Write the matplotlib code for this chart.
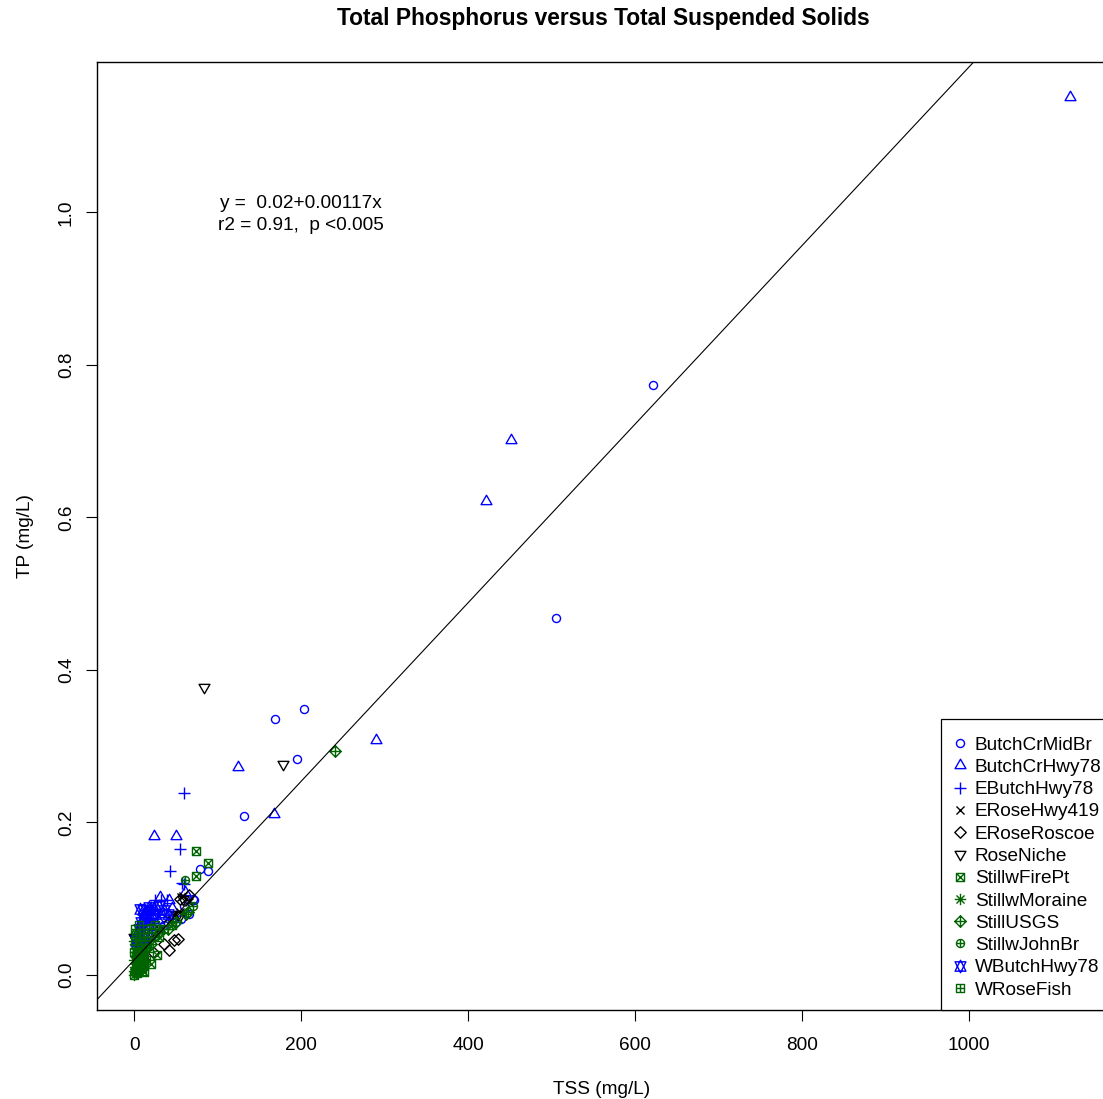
import numpy as np
import matplotlib
matplotlib.use("Agg")
import matplotlib.pyplot as plt
from matplotlib.path import Path
from matplotlib.lines import Line2D

plt.rcParams["font.family"] = ["Liberation Sans", "DejaVu Sans"]

# TSS (mg/L) and TP (mg/L) by monitoring site
butch_mid_tss = [622, 505, 168, 203, 195, 131, 79, 88, 70, 56, 65, 50, 60, 45, 35, 30, 25, 20, 15, 10, 8, 5, 40, 72]
butch_mid_tp = [0.774, 0.468, 0.335, 0.348, 0.283, 0.209, 0.139, 0.136, 0.100, 0.073, 0.080, 0.070, 0.090, 0.075,
                0.065, 0.060, 0.055, 0.050, 0.040, 0.030, 0.035, 0.020, 0.068, 0.098]

butch_hwy_tss = [1121, 452, 422, 289, 124, 167, 24, 50, 31, 41, 11, 61, 18, 25, 35, 8, 15, 45, 4, 28]
butch_hwy_tp = [1.151, 0.701, 0.622, 0.308, 0.272, 0.211, 0.182, 0.182, 0.102, 0.098, 0.080, 0.109, 0.085, 0.090,
                0.080, 0.070, 0.060, 0.088, 0.055, 0.072]

ebutch_tss = [60, 55, 43, 57, 25, 39, 59, 32, 20, 13, 2, 1, 8, 12, 5, 18, 28, 3, 10, 22, 15]
ebutch_tp = [0.239, 0.165, 0.136, 0.121, 0.098, 0.098, 0.119, 0.098, 0.089, 0.085, 0.050, 0.052, 0.060, 0.070,
             0.045, 0.075, 0.080, 0.035, 0.055, 0.066, 0.072]

erose419_tss = [58, 55, 56, 40, 30, 20, 10, 5, 3, 48, 65, 15]
erose419_tp = [0.104, 0.083, 0.102, 0.075, 0.060, 0.050, 0.040, 0.030, 0.020, 0.078, 0.095, 0.045]

eroscoe_tss = [47, 41, 52, 55, 66, 22, 12, 36, 8]
eroscoe_tp = [0.046, 0.033, 0.047, 0.100, 0.105, 0.030, 0.020, 0.040, 0.015]

niche_tss = [84, 178, 55, 58, 52, 0, 3]
niche_tp = [0.378, 0.276, 0.078, 0.100, 0.080, 0.050, 0.040]

firept_tss = [74, 88, 74, 27, 11, 20, 5, 10, 30, 45, 3, 14, 8]
firept_tp = [0.163, 0.147, 0.130, 0.026, 0.004, 0.014, 0.010, 0.020, 0.050, 0.065, 0.030, 0.045, 0.060]

moraine_tss = [0, 1, 2, 0, 3, 1, 4, 2, 5, 0, 6, 2, 8, 3, 1, 0, 4, 7, 2, 5]
moraine_tp = [0.005, 0.010, 0.015, 0.020, 0.025, 0.030, 0.012, 0.003, 0.018, 0.000, 0.030, 0.035, 0.025, 0.008,
              0.040, 0.045, 0.050, 0.042, 0.055, 0.006]

usgs_tss = [241, 64, 62, 30, 20, 10, 5, 40, 50, 15, 2, 8]
usgs_tp = [0.293, 0.083, 0.080, 0.055, 0.040, 0.025, 0.015, 0.060, 0.070, 0.035, 0.008, 0.048]

johnbr_tss = [61, 70, 3, 8, 12, 18, 25, 35, 45, 1, 6, 10]
johnbr_tp = [0.125, 0.090, 0.010, 0.020, 0.030, 0.045, 0.050, 0.060, 0.070, 0.005, 0.038, 0.012]

wbutch_tss = [7, 17, 10, 15, 20, 12, 25, 30, 8, 18, 5, 35, 40, 22, 2, 11]
wbutch_tp = [0.087, 0.089, 0.085, 0.080, 0.085, 0.075, 0.080, 0.090, 0.070, 0.065, 0.060, 0.085, 0.080, 0.075,
             0.045, 0.050]

rosefish_tss = [0, 2, 3, 5, 8, 10, 12, 15, 1, 4, 6, 2, 9, 14, 18, 7, 20, 25, 30, 0, 3, 11, 1, 6, 4, 9, 13, 2]
rosefish_tp = [0.000, 0.010, 0.020, 0.030, 0.040, 0.050, 0.055, 0.060, 0.045, 0.035, 0.015, 0.025, 0.005, 0.020,
               0.035, 0.050, 0.062, 0.065, 0.060, 0.030, 0.002, 0.012, 0.060, 0.065, 0.008, 0.028, 0.040, 0.052]

site_names = ["ButchCrMidBr", "ButchCrHwy78", "EButchHwy78", "ERoseHwy419", "ERoseRoscoe", "RoseNiche",
              "StillwFirePt", "StillwMoraine", "StillUSGS", "StillwJohnBr", "WButchHwy78", "WRoseFish"]
site_tss = [butch_mid_tss, butch_hwy_tss, ebutch_tss, erose419_tss, eroscoe_tss, niche_tss,
            firept_tss, moraine_tss, usgs_tss, johnbr_tss, wbutch_tss, rosefish_tss]
site_tp = [butch_mid_tp, butch_hwy_tp, ebutch_tp, erose419_tp, eroscoe_tp, niche_tp,
           firept_tp, moraine_tp, usgs_tp, johnbr_tp, wbutch_tp, rosefish_tp]
site_pch = [1, 2, 3, 4, 5, 6, 7, 8, 9, 10, 11, 12]
site_colors = ["blue", "blue", "blue", "black", "black", "black",
               "darkgreen", "darkgreen", "darkgreen", "darkgreen", "blue", "darkgreen"]

fit_intercept = 0.02
fit_slope = 0.00117


# R-style plotting symbols built as paths (unit = symbol radius)
def seg(a, b):
    return Path([a, b], [Path.MOVETO, Path.LINETO])


def poly(pts):
    return Path(pts + [pts[0]], [Path.MOVETO] + [Path.LINETO] * (len(pts) - 1) + [Path.CLOSEPOLY])


S2 = np.sqrt(2)
TRC0 = np.sqrt(4 * np.pi / (3 * np.sqrt(3)))
TRC1 = TRC0 * np.sqrt(3) / 2
TRC2 = TRC0 / 2


def pch_path(pch):
    circ = Path.unit_circle()
    sq = poly([(-1, -1), (1, -1), (1, 1), (-1, 1)])
    xcross = [seg((-1, -1), (1, 1)), seg((-1, 1), (1, -1))]
    pcross = [seg((-S2, 0), (S2, 0)), seg((0, -S2), (0, S2))]
    up = poly([(0, TRC0), (TRC1, -TRC2), (-TRC1, -TRC2)])
    down = poly([(0, -TRC0), (TRC1, TRC2), (-TRC1, TRC2)])
    if pch == 1:
        parts = [circ]
    elif pch == 2:
        parts = [up]
    elif pch == 3:
        parts = pcross
    elif pch == 4:
        parts = xcross
    elif pch == 5:
        parts = [poly([(-S2, 0), (0, S2), (S2, 0), (0, -S2)])]
    elif pch == 6:
        parts = [down]
    elif pch == 7:
        parts = [sq] + xcross
    elif pch == 8:
        parts = xcross + pcross
    elif pch == 9:
        parts = [poly([(-S2, 0), (0, S2), (S2, 0), (0, -S2)])] + pcross
    elif pch == 10:
        parts = [circ, seg((-1, 0), (1, 0)), seg((0, -1), (0, 1))]
    elif pch == 11:
        yc = 0.5 * (TRC2 + TRC0)
        parts = [poly([(0, -TRC0), (TRC1, yc), (-TRC1, yc)]),
                 poly([(0, TRC0), (TRC1, -yc), (-TRC1, -yc)])]
    else:
        parts = [sq, seg((-1, 0), (1, 0)), seg((0, -1), (0, 1))]
    path = Path.make_compound_path(*parts)
    return path, np.max(np.abs(path.vertices))


RADIUS_PT = 2.9
MEW = 1.0
FS = 13.7

fig = plt.figure(figsize=(11.03, 10.99), dpi=100)
ax = fig.add_axes([97 / 1103, 89 / 1099, 1010 / 1103, 948 / 1099])

handles = []
for name, xs, ys, pch, col in zip(site_names, site_tss, site_tp, site_pch, site_colors):
    path, ext = pch_path(pch)
    ms = 2 * ext * RADIUS_PT
    ax.plot(xs, ys, linestyle="none", marker=path, ms=ms, mfc="none", mec=col, mew=MEW)
    handles.append(Line2D([], [], linestyle="none", marker=path, ms=ms, mfc="none", mec=col, mew=MEW, label=name))

ax.axline((0, fit_intercept), slope=fit_slope, color="black", lw=0.8)

all_x = np.concatenate([np.asarray(v, float) for v in site_tss])
all_y = np.concatenate([np.asarray(v, float) for v in site_tp])
dx = 0.04 * (all_x.max() - all_x.min())
dy = 0.04 * (all_y.max() - all_y.min())
ax.set_xlim(all_x.min() - dx, all_x.max() + dx)
ax.set_ylim(all_y.min() - dy, all_y.max() + dy)

ax.set_xticks([0, 200, 400, 600, 800, 1000])
ax.set_yticks([0.0, 0.2, 0.4, 0.6, 0.8, 1.0])
ax.set_yticklabels(["0.0", "0.2", "0.4", "0.6", "0.8", "1.0"])
ax.tick_params(axis="both", length=8, width=0.8, labelsize=FS, color="black")
ax.tick_params(axis="x", pad=11.5)
ax.tick_params(axis="y", pad=8, labelrotation=90)
for lbl in ax.get_yticklabels():
    lbl.set_va("center")
for sp in ax.spines.values():
    sp.set_linewidth(1.0)

ax.set_xlabel("TSS (mg/L)", fontsize=FS, labelpad=19.5)
ax.set_ylabel("TP (mg/L)", fontsize=FS, labelpad=17)

ax.text(200, 0.997, "y =  0.02+0.00117x\nr2 = 0.91,  p <0.005", ha="center", va="center",
        fontsize=FS, linespacing=1.37)

fig.text(603 / 1103, 1 - 19 / 1099, "Total Phosphorus versus Total Suspended Solids",
         ha="center", va="center", fontsize=16.4, fontweight="bold")

leg = ax.legend(handles=handles, loc="lower right", bbox_to_anchor=(1 + 6 / 1010, 0), borderaxespad=0,
                fontsize=FS, frameon=True, fancybox=False, edgecolor="black", framealpha=1,
                handlelength=0.8, handletextpad=0.4, labelspacing=0.26, borderpad=0.6,
                title=" ", title_fontsize=1)
leg.get_frame().set_linewidth(0.9)

fig.savefig("out.png", dpi=100)
